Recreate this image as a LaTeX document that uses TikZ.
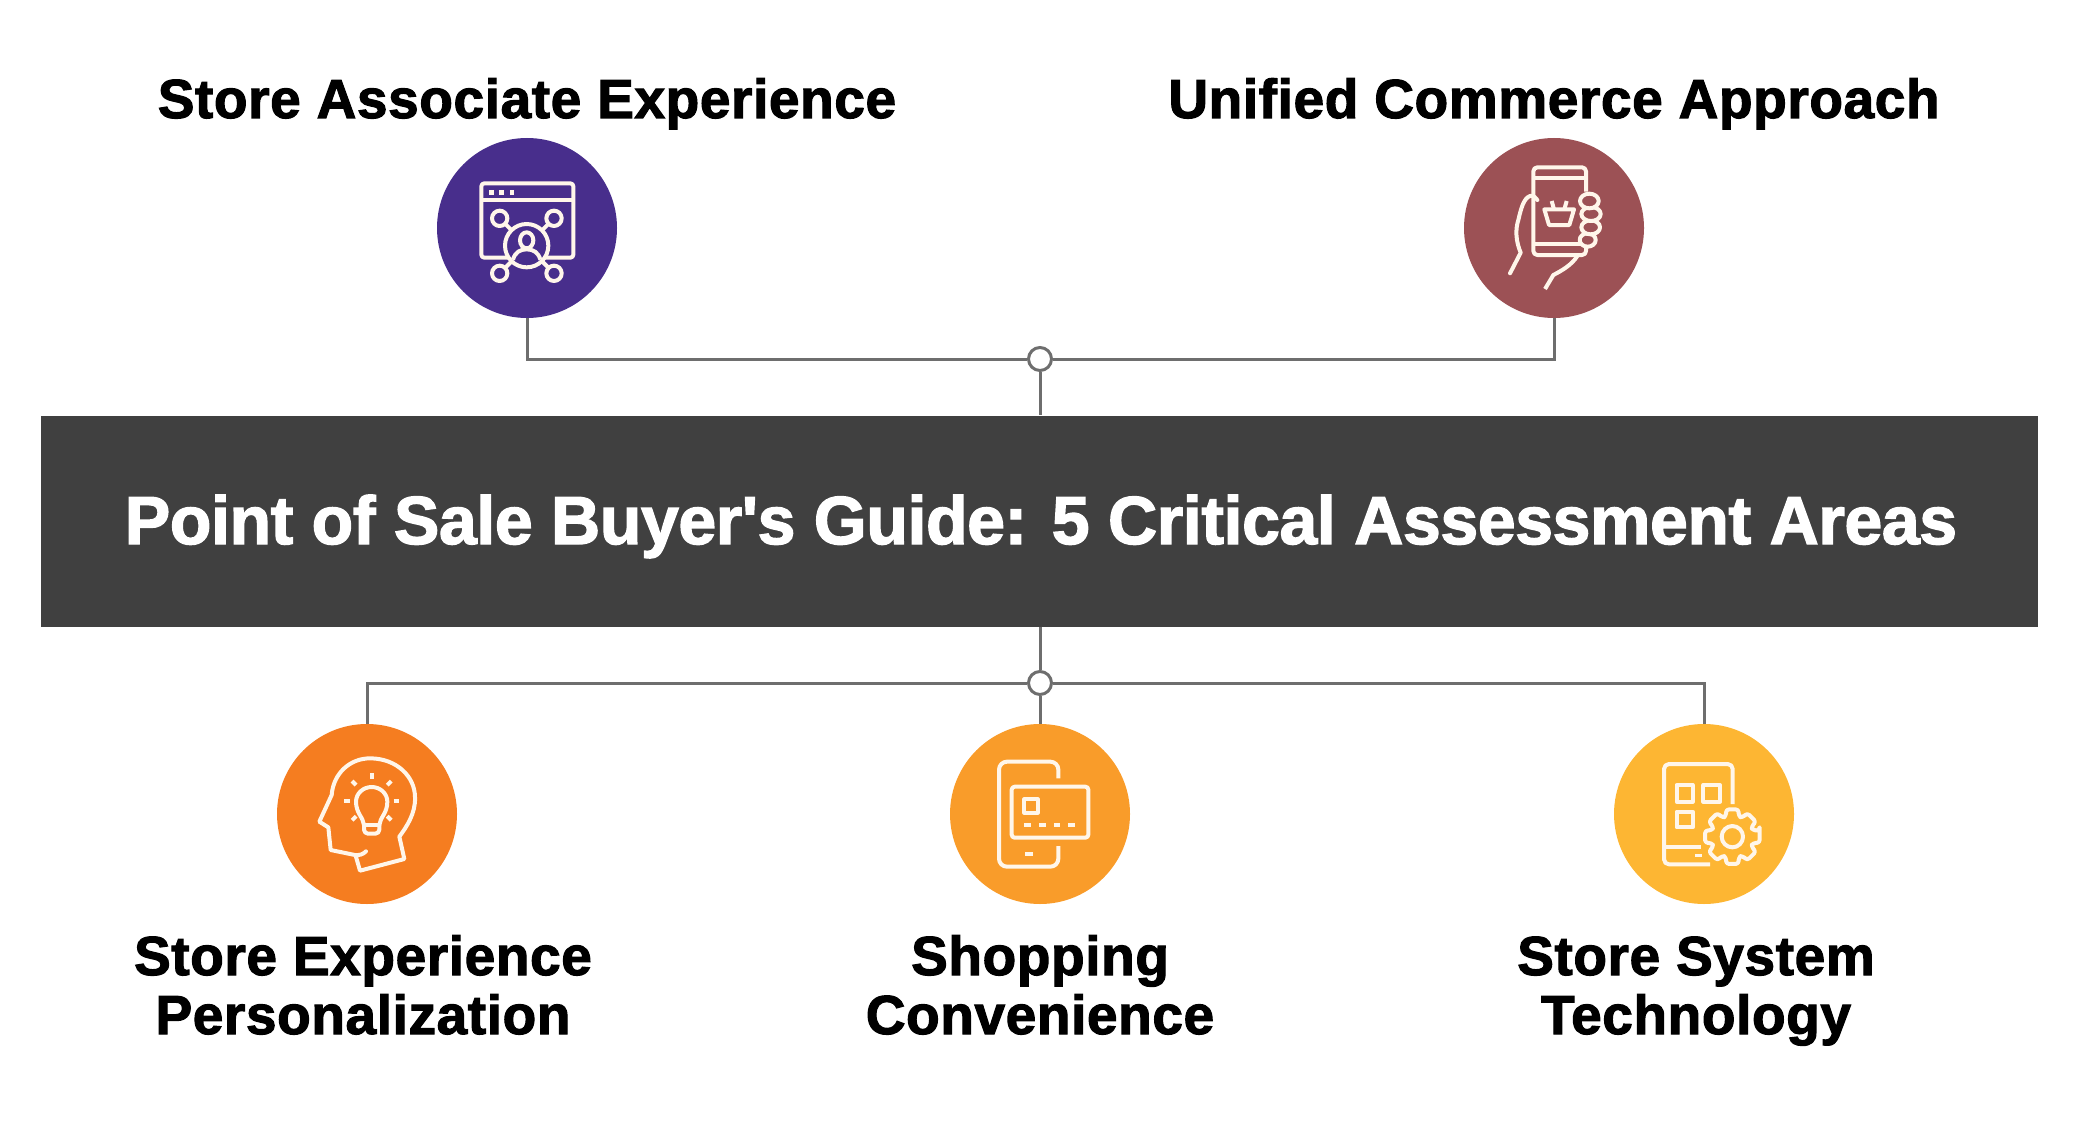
\documentclass[tikz,border=0pt]{standalone}
\usepackage{fontspec}
\usetikzlibrary{calc}
\setmainfont{Liberation Sans}
\newfontfamily\headfont{Liberation Sans Bold}[FakeBold=2,LetterSpace=1.1]
\newfontfamily\titlefont{Liberation Sans Bold}[FakeBold=2,LetterSpace=-0.6]
\definecolor{barc}{HTML}{404040}
\definecolor{linec}{HTML}{6E6E6E}
\definecolor{cA}{HTML}{482E8C}
\definecolor{cB}{HTML}{9C5155}
\definecolor{cC}{HTML}{F57D20}
\definecolor{cD}{HTML}{F99C2A}
\definecolor{cE}{HTML}{FDB633}
\definecolor{iconc}{HTML}{FFF6EA}
\tikzset{
  disc/.style={circle,inner sep=0pt,minimum size=90pt,draw=none},
  junction/.style={circle,draw=linec,fill=white,line width=1.5pt,minimum size=11.5pt,inner sep=0pt},
  conn/.style={draw=linec,line width=1.5pt},
  heading/.style={font=\headfont\fontsize{27.5}{29.5}\selectfont,text=black,align=center,inner sep=0pt,anchor=base},
  titletext/.style={font=\titlefont\fontsize{34}{38}\selectfont,text=white,inner sep=0pt,anchor=base},
  icon/.style={draw=iconc,line width=2pt,line join=round,line cap=butt},
  zoomgrid/.style={x=0.16667pt,y=-0.16667pt}
}
\begin{document}
\begin{tikzpicture}[x=0.5pt,y=-0.5pt]
\useasboundingbox (0,0) rectangle (2081,1123);
% bar and title
\node[fill=barc,minimum width=998.5pt,minimum height=105.5pt,inner sep=0pt] (bar) at (1039.5,521) {};
\node[titletext] (title) at (1041,544) {Point of Sale Buyer's Guide: 5 Critical Assessment Areas};
% discs
\node[disc,fill=cA] (c1) at (527,228) {};
\node[disc,fill=cB] (c2) at (1554,228) {};
\node[disc,fill=cC] (c3) at (367,814) {};
\node[disc,fill=cD] (c4) at (1040,814) {};
\node[disc,fill=cE] (c5) at (1704,814) {};
% junctions
\node[junction] (j1) at (1040,359) {};
\node[junction] (j2) at (1040,683) {};
% connectors
\draw[conn] (c1.south) |- (j1.west);
\draw[conn] (c2.south) |- (j1.east);
\draw[conn] (j1.south) -- (j1 |- bar.north);
\draw[conn] (j2.north) -- (j2 |- bar.south);
\draw[conn] (c3.north) |- (j2.west);
\draw[conn] (c5.north) |- (j2.east);
\draw[conn] (j2.south) -- (c4.north);
% labels
\node[heading] (l1) at (527,118) {Store Associate Experience};
\node[heading] (l2) at (1554,118) {Unified Commerce Approach};
\node[heading] (l3) at (363,1034) {Store Experience\\Personalization};
\node[heading] (l4) at (1040,1034) {Shopping\\Convenience};
\node[heading] (l5) at (1696,1034) {Store System\\Technology};
% icon 1
\begin{scope}[shift={(420,120)}]\begin{scope}[zoomgrid]
\draw[icon,rounded corners=1.5pt] (265,413) -- (184,413) -- (184,190) -- (460,190) -- (460,413) -- (375,413);
\draw[icon] (184,240) -- (460,240);
\foreach \dx in {214,245,276} \fill[iconc] (\dx-7,210) rectangle (\dx+7,224);
\foreach \px/\py in {239/295,402/295,239/460,402/460} \draw[icon] (\px,\py) circle (23);
\draw[icon] (320,377) circle (65);
\draw[icon] (256,312) -- (276,332);
\draw[icon] (385,312) -- (365,332);
\draw[icon] (256,443) -- (276,423);
\draw[icon] (385,443) -- (365,423);
\draw[icon] (320,361) ellipse (20 and 24);
\draw[icon] (279,419) .. controls (285,397) and (300,388) .. (320,388) .. controls (340,388) and (355,397) .. (361,419);
\end{scope}\end{scope}
% icon 2
\begin{scope}[shift={(1450,120)}]\begin{scope}[zoomgrid]
\draw[icon,rounded corners=2pt] (408,215) -- (408,142) -- (250,142) -- (250,405) -- (408,405) -- (408,382);
\draw[icon] (250,175) -- (408,175);
\draw[icon] (250,372) -- (400,372);
\draw[icon] (283,268) -- (372,268) -- (358,315) -- (297,315) -- cycle;
\draw[icon] (305,243) -- (312,268);
\draw[icon] (350,243) -- (343,268);
\draw[icon,fill=cB] (413,360) ellipse (24 and 20);
\draw[icon,fill=cB] (422,322) ellipse (28 and 21);
\draw[icon,fill=cB] (423,282) ellipse (29 and 21);
\draw[icon,fill=cB] (418,243) ellipse (28 and 22);
\draw[icon,line cap=round] (180,460) -- (212,398) .. controls (198,365) and (195,330) .. (205,300) .. controls (212,270) and (220,235) .. (240,228) .. controls (250,226) and (258,232) .. (262,240);
\draw[icon] (285,507) -- (310,465) .. controls (335,452) and (365,435) .. (382,408);
\end{scope}\end{scope}
% icon 3
\begin{scope}[shift={(260,710)}]\begin{scope}[zoomgrid]
\draw[icon,line cap=round] (318,424) .. controls (308,434) and (298,436) .. (285,435) -- (212,420) -- (205,352) -- (178,335) -- (215,255) .. controls (220,190) and (270,145) .. (330,145) .. controls (410,145) and (465,200) .. (465,262) .. controls (467,310) and (440,350) .. (418,380) -- (433,447) -- (300,482) -- (287,437);
\draw[icon] (312,345) .. controls (310,322) and (288,310) .. (288,275) .. controls (288,250) and (310,231) .. (335,231) .. controls (360,231) and (382,250) .. (382,275) .. controls (382,310) and (360,322) .. (358,345);
\draw[icon] (312,345) -- (358,345);
\draw[icon,rounded corners=2pt] (312,345) -- (312,371) -- (358,371) -- (358,345);
\foreach \a in {45,135,180,225,270,315,360} \draw[icon] ($(335,272)+(\a:66)$) -- ($(335,272)+(\a:83)$);
\end{scope}\end{scope}
% icon 4
\begin{scope}[shift={(935,710)}]\begin{scope}[zoomgrid]
\draw[icon,rounded corners=4pt] (370,205) -- (370,155) -- (192,155) -- (192,470) -- (370,470) -- (370,408);
\draw[icon,rounded corners=1.5pt] (230,230) rectangle (460,383);
\draw[icon] (268,268) rectangle (308,308);
\foreach \dx in {278,322,366,410} \fill[iconc] (\dx-10,338) rectangle (\dx+10,350);
\fill[iconc] (269,426) rectangle (295,438);
\end{scope}\end{scope}
% icon 5
\begin{scope}[shift={(1600,710)}]\begin{scope}[zoomgrid]
\draw[icon,rounded corners=2.5pt] (398,282) -- (398,162) -- (192,162) -- (192,463) -- (330,463);
\draw[icon] (192,412) -- (304,412);
\fill[iconc] (285,431) rectangle (306,441);
\draw[icon] (230,225) rectangle (278,275);
\draw[icon] (310,225) rectangle (360,275);
\draw[icon] (230,305) rectangle (278,352);
\draw[icon] (397,380) circle (32);
\draw[icon,rounded corners=1.5pt] ($(397,380)+(-13:84)$) \foreach \t in {0,45,...,315} {
  -- ($(397,380)+(\t-13:84)$) -- ($(397,380)+(\t+13:84)$) -- ($(397,380)+(\t+17:64)$) -- ($(397,380)+(\t+28:64)$)
} -- cycle;
\end{scope}\end{scope}
\end{tikzpicture}
\end{document}
